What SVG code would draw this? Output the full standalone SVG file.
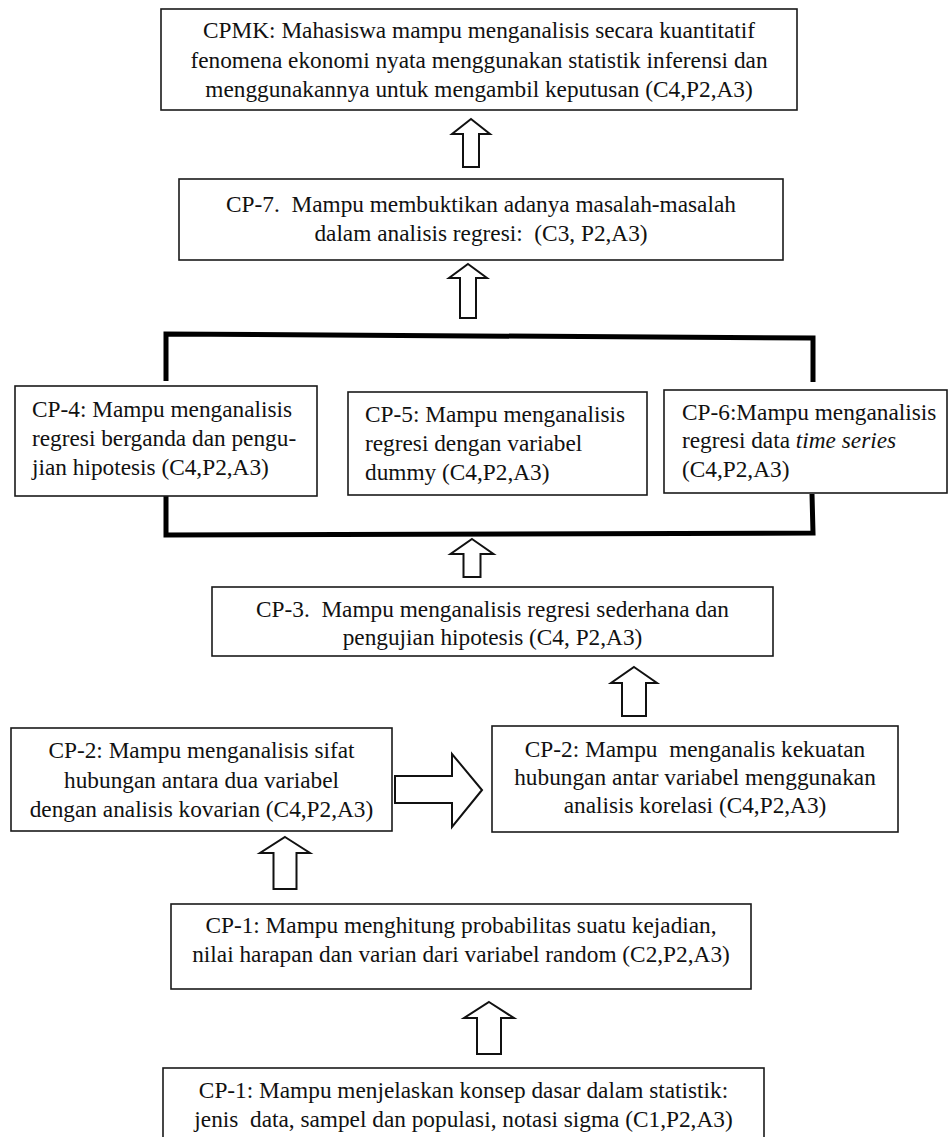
<svg xmlns="http://www.w3.org/2000/svg" width="949" height="1137" viewBox="0 0 949 1137">
<style>
.box{fill:#fff;stroke:#1a1a1a;stroke-width:1.6}
.t{font-family:"Liberation Serif","Times New Roman",serif;font-size:23.3px;fill:#111;white-space:pre}
.c{text-anchor:middle}
.arr{fill:#fff;stroke:#111;stroke-width:2;stroke-linejoin:miter}
.br{fill:none;stroke:#000;stroke-width:5;stroke-linejoin:miter}
</style>
<rect width="949" height="1137" fill="#fff"/>
<g id="connectors">
<path class="arr" d="M471,119 L490,134 L479,134 L479,167 L463,167 L463,134 L452,134 Z"/>
<path class="arr" d="M468,264 L487,278 L476,278 L476,318 L460,318 L460,278 L449,278 Z"/>
<polyline class="br" points="166,381 166,334 813,338 813,382"/>
<polyline class="br" points="166,496 166,535 813,533 812,494"/>
<path class="arr" d="M472,539 L493.5,554 L480.5,554 L480.5,577 L463.5,577 L463.5,554 L450.5,554 Z"/>
<path class="arr" d="M634,667 L657,683 L646,683 L646,716 L622,716 L622,683 L611,683 Z"/>
<path class="arr" d="M482,790 L452,827 L452,803 L395,803 L395,776 L452,776 L452,754 Z"/>
<path class="arr" d="M285,837 L310,853 L296.5,853 L296.5,889 L273.5,889 L273.5,853 L260,853 Z"/>
<path class="arr" d="M489,1002 L514,1018 L501,1018 L501,1054 L477,1054 L477,1018 L464,1018 Z"/>
</g>
<g id="cpmk">
<rect class="box" x="161" y="9" width="636" height="101"/>
<text class="t c" x="479" y="38">CPMK: Mahasiswa mampu menganalisis secara kuantitatif</text>
<text class="t c" x="479" y="68">fenomena ekonomi nyata menggunakan statistik inferensi dan</text>
<text class="t c" x="479" y="97">menggunakannya untuk mengambil keputusan (C4,P2,A3)</text>
</g>
<g id="cp7">
<rect class="box" x="179" y="179" width="604" height="81"/>
<text class="t c" x="481" y="212">CP-7.  Mampu membuktikan adanya masalah-masalah</text>
<text class="t c" x="481" y="241">dalam analisis regresi:  (C3, P2,A3)</text>
</g>
<g id="cp4">
<rect class="box" x="15" y="386" width="302" height="110"/>
<text class="t" x="32" y="417">CP-4: Mampu menganalisis</text>
<text class="t" x="32" y="446">regresi berganda dan pengu-</text>
<text class="t" x="32" y="475">jian hipotesis (C4,P2,A3)</text>
</g>
<g id="cp5">
<rect class="box" x="348" y="392" width="299" height="103"/>
<text class="t" x="365" y="422">CP-5: Mampu menganalisis</text>
<text class="t" x="365" y="451">regresi dengan variabel</text>
<text class="t" x="365" y="480">dummy (C4,P2,A3)</text>
</g>
<g id="cp6">
<rect class="box" x="664" y="390" width="283" height="103"/>
<text class="t" x="682" y="420">CP-6:Mampu menganalisis</text>
<text class="t" x="682" y="448">regresi data <tspan font-style="italic">time series</tspan></text>
<text class="t" x="682" y="477">(C4,P2,A3)</text>
</g>
<g id="cp3">
<rect class="box" x="212" y="587" width="561" height="69"/>
<text class="t c" x="492.5" y="617">CP-3.  Mampu menganalisis regresi sederhana dan</text>
<text class="t c" x="492.5" y="645">pengujian hipotesis (C4, P2,A3)</text>
</g>
<g id="cp2a">
<rect class="box" x="11" y="728" width="381" height="103"/>
<text class="t c" x="201.5" y="758">CP-2: Mampu menganalisis sifat</text>
<text class="t c" x="201.5" y="788">hubungan antara dua variabel</text>
<text class="t c" x="201.5" y="817">dengan analisis kovarian (C4,P2,A3)</text>
</g>
<g id="cp2b">
<rect class="box" x="492" y="726" width="406" height="106"/>
<text class="t c" x="695" y="757">CP-2: Mampu  menganalis kekuatan</text>
<text class="t c" x="695" y="785">hubungan antar variabel menggunakan</text>
<text class="t c" x="695" y="813">analisis korelasi (C4,P2,A3)</text>
</g>
<g id="cp1a">
<rect class="box" x="171" y="904" width="580" height="85"/>
<text class="t c" x="461" y="933">CP-1: Mampu menghitung probabilitas suatu kejadian,</text>
<text class="t c" x="461" y="962">nilai harapan dan varian dari variabel random (C2,P2,A3)</text>
</g>
<g id="cp1b">
<rect class="box" x="163" y="1068" width="601" height="75"/>
<text class="t c" x="463.5" y="1098">CP-1: Mampu menjelaskan konsep dasar dalam statistik:</text>
<text class="t c" x="463.5" y="1127">jenis  data, sampel dan populasi, notasi sigma (C1,P2,A3)</text>
</g>
</svg>
